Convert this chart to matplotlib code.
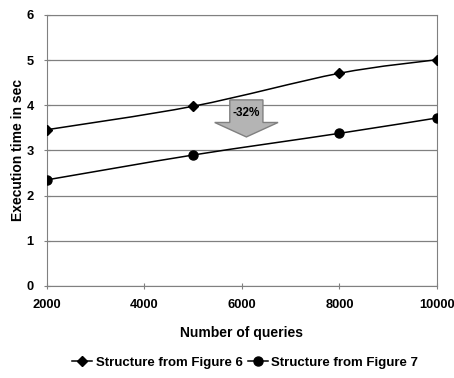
import matplotlib.pyplot as plt
from matplotlib.path import Path
from matplotlib.patches import PathPatch, Polygon
from matplotlib.lines import Line2D

# data
queries = [2000, 5000, 8000, 10000]
fig6_times = [3.46, 3.98, 4.71, 5.01]
fig7_times = [2.35, 2.90, 3.38, 3.72]
labels = ["Structure from Figure 6", "Structure from Figure 7"]
x_ticks = [2000, 4000, 6000, 8000, 10000]
y_ticks = [0, 1, 2, 3, 4, 5, 6]

plt.rcParams['font.family'] = ['Liberation Sans', 'DejaVu Sans']
plt.rcParams['font.weight'] = 'bold'


def smooth_path(xs, ys):
    # Catmull-Rom style bezier through the points (like Excel smoothed lines)
    verts = [(xs[0], ys[0])]
    codes = [Path.MOVETO]
    n = len(xs)
    for i in range(n - 1):
        p0 = (xs[max(i - 1, 0)], ys[max(i - 1, 0)])
        p1 = (xs[i], ys[i])
        p2 = (xs[i + 1], ys[i + 1])
        p3 = (xs[min(i + 2, n - 1)], ys[min(i + 2, n - 1)])
        c1 = (p1[0] + (p2[0] - p0[0]) / 6, p1[1] + (p2[1] - p0[1]) / 6)
        c2 = (p2[0] - (p3[0] - p1[0]) / 6, p2[1] - (p3[1] - p1[1]) / 6)
        verts += [c1, c2, p2]
        codes += [Path.CURVE4] * 3
    return Path(verts, codes)


fig = plt.figure(figsize=(4.54, 3.78), dpi=100)
ax = fig.add_axes([0.1035, 0.2434, 0.859, 0.717])

for ys, mk, ms in [(fig6_times, 'D', 5.5), (fig7_times, 'o', 6.5)]:
    ax.add_patch(PathPatch(smooth_path(queries, ys), fill=False, ec='black', lw=1.1, zorder=3))
    ax.plot(queries, ys, ls='none', marker=mk, ms=ms, color='black', zorder=4)

# block arrow with the improvement label
arrow = Polygon([(5750, 4.12), (6430, 4.12), (6430, 3.62), (6740, 3.62),
                 (6090, 3.30), (5440, 3.62), (5750, 3.62)],
                closed=True, fc='#b4b4b4', ec='#808080', lw=1, zorder=5)
ax.add_patch(arrow)
ax.text(6090, 3.84, "-32%", ha='center', va='center', fontsize=8.5, fontweight='bold', zorder=6)

ax.set_xlim(2000, 10000)
ax.set_ylim(0, 6)
ax.set_xticks(x_ticks)
ax.set_yticks(y_ticks)
ax.grid(axis='y', color='#808080', lw=0.9)
ax.set_axisbelow(True)
for s in ax.spines.values():
    s.set_color('#808080')
ax.tick_params(direction='inout', length=5, color='#808080', labelsize=9.3, pad=7)

ax.set_xlabel("Number of queries", fontsize=10, fontweight='bold', labelpad=11)
ax.set_ylabel("Execution time in sec", fontsize=10, fontweight='bold', labelpad=1)

handles = [Line2D([], [], color='black', lw=1.1, marker='D', ms=5.5),
           Line2D([], [], color='black', lw=1.1, marker='o', ms=6.5)]
fig.legend(handles, labels, loc='center', bbox_to_anchor=(0.54, 0.04), ncol=2, frameon=False,
           fontsize=9.5, handlelength=1.5, handletextpad=0.3, columnspacing=0.4)

fig.savefig('out.png', dpi=100)
